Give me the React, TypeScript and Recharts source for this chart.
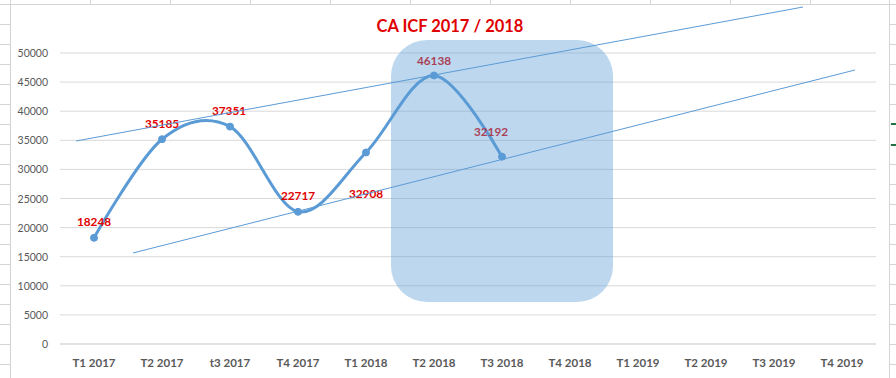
import React from "react";
import {
  ComposedChart,
  Line,
  XAxis,
  YAxis,
  CartesianGrid,
  ReferenceArea,
  ReferenceLine,
  LabelList,
} from "recharts";

const categories = [
  "T1 2017", "T2 2017", "t3 2017", "T4 2017",
  "T1 2018", "T2 2018", "T3 2018", "T4 2018",
  "T1 2019", "T2 2019", "T3 2019", "T4 2019",
];
const caValues: (number | null)[] = [
  18248, 35185, 37351, 22717, 32908, 46138, 32192,
  null, null, null, null, null,
];
const yTicks = [0, 5000, 10000, 15000, 20000, 25000, 30000, 35000, 40000, 45000, 50000];
const titleText = "CA ICF 2017 / 2018";

// overlay shapes (x on a 0..11 scale spanning the plot width, y = value)
const upperTrend = [
  { x: 0.216, y: 34880 },
  { x: 10.016, y: 57900 },
];
const lowerTrend = [
  { x: 0.984, y: 15640 },
  { x: 10.717, y: 47080 },
];
const highlightBox = { x1: 4.462, x2: 7.455, y1: 7220, y2: 52230 };

// label offsets (styling)
const labelDx = [0, 0, -1, 0, 0, 0, -11];
const labelDy = [-16, -16, -16, -16, 41, -15, -25];

const data = categories.map((c, i) => ({ cat: c, ca: caValues[i] }));

const BLUE = "#5B9BD5";
const RED = "#E00000";
const FONT = "Lato, 'Open Sans', sans-serif";

// Catmull-Rom (cardinal, tension 0) curve, like Excel smoothed lines
function smoothCurve(context: any) {
  const k = 1 / 6;
  let x0 = NaN, y0 = NaN, x1 = NaN, y1 = NaN, x2 = NaN, y2 = NaN;
  let pt = 0;
  const seg = (x: number, y: number) => {
    context.bezierCurveTo(
      x1 + k * (x2 - x0),
      y1 + k * (y2 - y0),
      x2 + k * (x1 - x),
      y2 + k * (y1 - y),
      x2,
      y2
    );
  };
  return {
    areaStart() {},
    areaEnd() {},
    lineStart() {
      x0 = x1 = x2 = y0 = y1 = y2 = NaN;
      pt = 0;
    },
    lineEnd() {
      if (pt === 2) context.lineTo(x2, y2);
      else if (pt === 3) seg(x1, y1);
    },
    point(x: number, y: number) {
      x = +x;
      y = +y;
      switch (pt) {
        case 0:
          pt = 1;
          context.moveTo(x, y);
          break;
        case 1:
          pt = 2;
          x1 = x;
          y1 = y;
          break;
        case 2:
          pt = 3;
          seg(x, y);
          break;
        default:
          seg(x, y);
          break;
      }
      x0 = x1; x1 = x2; x2 = x;
      y0 = y1; y1 = y2; y2 = y;
    },
  };
}

const XTick = (props: any) => {
  const { x, y, payload } = props;
  return (
    <text
      x={x}
      y={y + 18}
      textAnchor="middle"
      dominantBaseline="central"
      fontFamily={FONT}
      fontSize={11.5}
      fontWeight={700}
      fill="#595959"
    >
      {payload.value}
    </text>
  );
};

const YTick = (props: any) => {
  const { y, payload } = props;
  return (
    <text
      x={48}
      y={y}
      textAnchor="end"
      dominantBaseline="central"
      fontFamily={FONT}
      fontSize={10.5}
      fill="#595959"
    >
      {payload.value}
    </text>
  );
};

const PointLabel = (props: any) => {
  const { x, y, value, index } = props;
  if (value == null) return null;
  return (
    <text
      x={x + (labelDx[index] || 0)}
      y={y + (labelDy[index] || 0)}
      textAnchor="middle"
      dominantBaseline="central"
      fontFamily={FONT}
      fontSize={11.8}
      fontWeight={700}
      fill={RED}
    >
      {value}
    </text>
  );
};

const colXs = [10, 90, 170, 250, 330, 410, 490, 570, 650, 730, 810, 889];
const rowYs = Array.from({ length: 19 }, (_, i) => 4 + i * 20);

export default function App() {
  return (
    <div
      style={{
        position: "absolute",
        left: 0,
        top: 0,
        width: 896,
        height: 378,
        background: "#ffffff",
        overflow: "hidden",
      }}
    >
      {colXs.map((x) => (
        <div
          key={"c" + x}
          style={{ position: "absolute", left: x, top: 0, width: 1, height: 4, background: "#D4D4D4" }}
        />
      ))}
      <div style={{ position: "absolute", left: 10, top: 0, width: 1, height: 378, background: "#D4D4D4" }} />
      <div style={{ position: "absolute", left: 889, top: 0, width: 1, height: 378, background: "#D4D4D4" }} />
      <div style={{ position: "absolute", left: 0, top: 4, width: 896, height: 1, background: "#D4D4D4" }} />
      {rowYs.map((y) => (
        <React.Fragment key={"r" + y}>
          <div style={{ position: "absolute", left: 0, top: y, width: 10, height: 1, background: "#D4D4D4" }} />
          <div style={{ position: "absolute", left: 890, top: y, width: 6, height: 1, background: "#D4D4D4" }} />
        </React.Fragment>
      ))}
      <div style={{ position: "absolute", left: 891, top: 123, width: 5, height: 2, background: "#217346" }} />
      <div style={{ position: "absolute", left: 891, top: 144, width: 5, height: 2, background: "#217346" }} />

      <div style={{ position: "absolute", left: 0, top: 0 }}>
        <ComposedChart
          width={896}
          height={378}
          data={data}
          margin={{ top: 53, right: 20, bottom: 0, left: 0 }}
        >
          <CartesianGrid vertical={false} stroke="#D9D9D9" strokeWidth={1} />
          <XAxis
            dataKey="cat"
            height={34}
            tickSize={0}
            tickMargin={0}
            tickLine={false}
            axisLine={{ stroke: "#D9D9D9" }}
            tick={<XTick />}
            interval={0}
            padding={{ left: 34, right: 34 }}
          />
          <XAxis
            xAxisId="n"
            type="number"
            domain={[0, 11]}
            hide
            allowDataOverflow
          />
          <YAxis
            width={60}
            domain={[0, 50000]}
            ticks={yTicks}
            tickSize={0}
            tickMargin={0}
            tickLine={false}
            axisLine={false}
            tick={<YTick />}
            allowDataOverflow
            interval={0}
          />
          <Line
            dataKey="ca"
            type={smoothCurve as any}
            stroke={BLUE}
            strokeWidth={3}
            dot={{ r: 3.5, fill: BLUE, stroke: BLUE, strokeWidth: 1 }}
            activeDot={false}
            isAnimationActive={false}
            connectNulls={false}
          >
            <LabelList dataKey="ca" content={<PointLabel />} />
          </Line>
          <ReferenceArea
            xAxisId="n"
            x1={highlightBox.x1}
            x2={highlightBox.x2}
            y1={highlightBox.y1}
            y2={highlightBox.y2}
            ifOverflow="visible"
            zIndex={2500}
            shape={(p: any) => (
              <rect
                x={p.x}
                y={p.y}
                width={p.width}
                height={p.height}
                rx={36}
                ry={36}
                fill={BLUE}
                fillOpacity={0.4}
              />
            )}
          />
          <ReferenceLine
            xAxisId="n"
            segment={upperTrend}
            stroke={BLUE}
            strokeWidth={1}
            ifOverflow="visible"
            zIndex={2600}
          />
          <ReferenceLine
            xAxisId="n"
            segment={lowerTrend}
            stroke={BLUE}
            strokeWidth={1}
            ifOverflow="visible"
            zIndex={2600}
          />
        </ComposedChart>
      </div>

      <div
        style={{
          position: "absolute",
          left: 350,
          top: 15,
          width: 200,
          textAlign: "center",
          fontFamily: FONT,
          fontSize: 16.5,
          fontWeight: 700,
          color: RED,
          lineHeight: "22px",
        }}
      >
        {titleText}
      </div>
    </div>
  );
}
